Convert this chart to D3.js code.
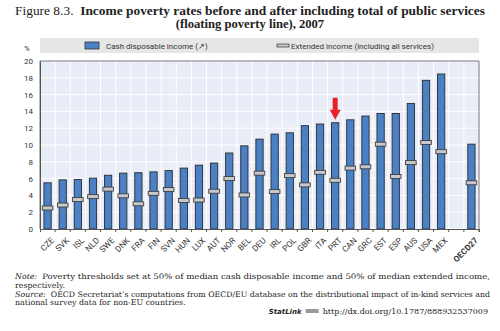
<!DOCTYPE html>
<html>
<head>
<meta charset="utf-8">
<script src="https://cdn.jsdelivr.net/npm/d3@7"></script>
<style>
body { margin: 0; background: #fff; }
svg { display: block; }
</style>
</head>
<body>
<script>
//Data
var countries = ["CZE","SVK","ISL","NLD","SWE","DNK","FRA","FIN","SVN","HUN","LUX","AUT","NOR","BEL","DEU","IRL","POL","GBR","ITA","PRT","CAN","GRC","EST","ESP","AUS","USA","MEX","","OECD27"];
var cashIncome = [5.5,5.85,5.9,6.05,6.4,6.65,6.7,6.8,6.95,7.25,7.6,7.85,9.05,9.9,10.7,11.3,11.45,12.3,12.5,12.65,13.0,13.45,13.75,13.75,14.95,17.7,18.45,null,10.1];
var extendedIncome = [2.5,2.85,3.5,3.85,4.75,3.95,3.0,4.25,4.7,3.4,3.45,4.5,6.0,4.05,6.65,4.45,6.35,5.25,6.75,5.8,7.25,7.4,10.1,6.25,7.9,10.3,9.2,null,5.5];
var yTicks = [0,2,4,6,8,10,12,14,16,18,20];
var highlight = "PRT";

//Define Margin
var margin = {left: 40, right: 21, top: 61, bottom: 102},
    width = 500 - margin.left - margin.right,
    height = 331 - margin.top - margin.bottom;

var svg = d3.select("body")
    .append("svg")
    .attr("width", 500)
    .attr("height", 331);

var serif = "'Liberation Serif', 'DejaVu Serif', serif";
var noteFont = "'DejaVu Serif', serif";
var narrow = "'Liberation Sans Narrow', 'Arial Narrow', 'Roboto', sans-serif";

//Title
var title = svg.append("text")
    .attr("x", 250).attr("y", 14.5)
    .attr("text-anchor", "middle")
    .attr("font-family", serif)
    .attr("font-size", 12.6)
    .attr("fill", "#222");
title.append("tspan")
    .text("Figure 8.3.\u00a0\u00a0");
title.append("tspan")
    .attr("font-weight", "bold")
    .text("Income poverty rates before and after including total of public services");
title.attr("textLength", 470).attr("lengthAdjust", "spacingAndGlyphs");
svg.append("text")
    .attr("x", 250).attr("y", 28)
    .attr("text-anchor", "middle")
    .attr("font-family", serif)
    .attr("font-size", 12.6)
    .attr("font-weight", "bold")
    .attr("fill", "#222")
    .text("(floating poverty line), 2007");

//Legend band
svg.append("rect")
    .attr("x", margin.left).attr("y", 38)
    .attr("width", width).attr("height", 15)
    .attr("fill", "#e6e6e6");
svg.append("rect")
    .attr("x", 85).attr("y", 42)
    .attr("width", 14).attr("height", 7)
    .attr("fill", "#4a80c4").attr("stroke", "#333").attr("stroke-width", 0.8);
svg.append("text")
    .attr("x", 106).attr("y", 48.5)
    .attr("font-family", narrow).attr("font-size", 8)
    .attr("fill", "#333")
    .text("Cash disposable income (\u2197)");
svg.append("rect")
    .attr("x", 277).attr("y", 44)
    .attr("width", 12).attr("height", 3)
    .attr("fill", "#c8c8c8").attr("stroke", "#333").attr("stroke-width", 0.7);
svg.append("text")
    .attr("x", 291).attr("y", 48.5)
    .attr("font-family", narrow).attr("font-size", 8)
    .attr("fill", "#333")
    .text("Extended income (including all services)");

svg.append("text")
    .attr("x", 27).attr("y", 51)
    .attr("text-anchor", "middle")
    .attr("font-family", narrow).attr("font-size", 7.5)
    .attr("fill", "#333")
    .text("%");

var g = svg.append("g")
    .attr("transform", "translate(" + margin.left + "," + margin.top + ")");

//Scales
var x = d3.scaleBand()
    .domain(countries.map(function(d, i) { return i; }))
    .range([0, width])
    .paddingInner(0.52)
    .paddingOuter(0.26);

var y = d3.scaleLinear()
    .domain([0, 20])
    .range([height, 0]);

//Plot background
g.append("rect")
    .attr("width", width).attr("height", height)
    .attr("fill", "#e9edf7");

//Grid lines
g.selectAll(".hgrid")
    .data(yTicks)
    .enter().append("line")
    .attr("x1", 0).attr("x2", width)
    .attr("y1", function(d) { return y(d); })
    .attr("y2", function(d) { return y(d); })
    .attr("stroke", "#fff").attr("stroke-width", 1);

var step = x.step();
g.selectAll(".vgrid")
    .data(d3.range(1, countries.length))
    .enter().append("line")
    .attr("x1", function(d) { return d * step; })
    .attr("x2", function(d) { return d * step; })
    .attr("y1", 0).attr("y2", height)
    .attr("stroke", "#fff").attr("stroke-width", 1);

//Frame
g.append("path")
    .attr("d", "M0," + height + "V0H" + width + "V" + height)
    .attr("fill", "none").attr("stroke", "#777").attr("stroke-width", 1);

//Y axis
var yAxis = g.append("g")
    .call(d3.axisLeft(y).tickValues(yTicks).tickSize(0).tickPadding(7));
yAxis.select(".domain").attr("stroke", "#555");
yAxis.selectAll("text")
    .attr("font-family", narrow).attr("font-size", 8).attr("fill", "#333");

//Bars
var idx = countries.map(function(d, i) { return i; }).filter(function(i) { return cashIncome[i] != null; });

g.selectAll(".bar")
    .data(idx)
    .enter().append("rect")
    .attr("x", function(i) { return x(i); })
    .attr("y", function(i) { return y(cashIncome[i]); })
    .attr("width", x.bandwidth())
    .attr("height", function(i) { return height - y(cashIncome[i]); })
    .attr("fill", "#4a80c4")
    .attr("stroke", "#2b2b2b").attr("stroke-width", 0.9);

//Extended income markers
g.selectAll(".marker")
    .data(idx)
    .enter().append("rect")
    .attr("x", function(i) { return x(i) + x.bandwidth() / 2 - 5.3; })
    .attr("y", function(i) { return y(extendedIncome[i]) - 2; })
    .attr("width", 10.6)
    .attr("height", 4)
    .attr("fill", "#c8c8c8")
    .attr("stroke", "#333").attr("stroke-width", 0.8);

//X axis
var xAxis = g.append("g")
    .attr("transform", "translate(0," + height + ")")
    .call(d3.axisBottom(x).tickSize(3).tickFormat(function(i) { return countries[i]; }));
xAxis.select(".domain").attr("stroke", "#555");
xAxis.selectAll(".tick line").attr("stroke", "#555")
    .attr("transform", "translate(" + (step / 2) + ",0)");
xAxis.selectAll("text")
    .attr("font-family", narrow).attr("font-size", 8.3).attr("fill", "#333")
    .attr("text-anchor", "end")
    .attr("dy", "0.3em")
    .attr("transform", "translate(1,6) rotate(-45)")
    .attr("font-weight", function(i) { return countries[i] == "OECD27" ? "bold" : "normal"; });

//Red arrow over highlighted country
var hi = countries.indexOf(highlight);
var ax = x(hi) + x.bandwidth() / 2;
var at = y(cashIncome[hi]) - 3;
g.append("path")
    .attr("d", "M" + (ax - 2.5) + "," + (at - 22) + "H" + (ax + 2.5) + "V" + (at - 10) +
        "H" + (ax + 5.5) + "L" + ax + "," + at + "L" + (ax - 5.5) + "," + (at - 10) +
        "H" + (ax - 2.5) + "Z")
    .attr("fill", "#e8202a");

//Notes: italic label, then the rest placed after it (fitted to the right edge if asked)
function noteLine(label, rest, yy, fit) {
    var lx = 15;
    if (label) {
        var lab = svg.append("text")
            .attr("x", lx).attr("y", yy)
            .attr("font-family", noteFont).attr("font-size", 7.9)
            .attr("font-style", "italic").attr("fill", "#222")
            .text(label);
        lx += lab.node().getComputedTextLength() + 5;
    }
    var t = svg.append("text")
        .attr("x", lx).attr("y", yy)
        .attr("font-family", noteFont).attr("font-size", fit ? 7.6 : 7.9)
        .attr("fill", "#222")
        .text(rest);
    if (fit) t.attr("textLength", 490 - lx).attr("lengthAdjust", "spacingAndGlyphs");
}
noteLine("Note:", "Poverty thresholds set at 50% of median cash disposable income and 50% of median extended income,", 279, true);
noteLine(null, "respectively.", 287.5, false);
noteLine("Source:", "OECD Secretariat\u2019s computations from OECD/EU database on the distributional impact of in-kind services and", 296.5, true);
noteLine(null, "national survey data for non-EU countries.", 305, false);

var link = svg.append("text")
    .attr("x", 488).attr("y", 314)
    .attr("text-anchor", "end")
    .attr("font-family", noteFont).attr("font-size", 8).attr("fill", "#222")
    .text("http://dx.doi.org/10.1787/888932537009");
var lw = link.node().getComputedTextLength();
svg.append("rect")
    .attr("x", 488 - lw - 17).attr("y", 309)
    .attr("width", 13).attr("height", 4)
    .attr("fill", "#999");
svg.append("text")
    .attr("x", 488 - lw - 21).attr("y", 314)
    .attr("text-anchor", "end")
    .attr("font-family", "'DejaVu Sans', sans-serif").attr("font-size", 7)
    .attr("font-style", "italic").attr("font-weight", "bold").attr("fill", "#222")
    .text("StatLink");
</script>
</body>
</html>
